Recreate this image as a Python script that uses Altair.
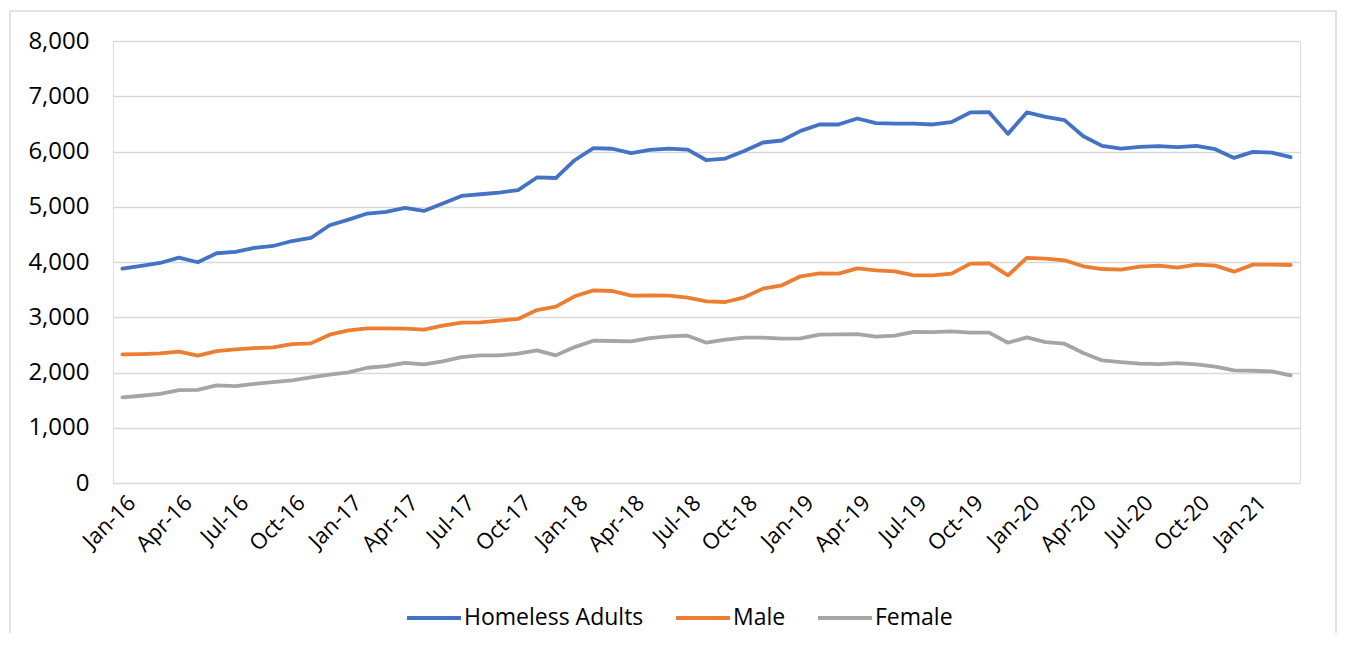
import altair as alt
import pandas as pd

month_names = ["Jan", "Feb", "Mar", "Apr", "May", "Jun", "Jul", "Aug", "Sep", "Oct", "Nov", "Dec"]
years = ["16", "17", "18", "19", "20", "21"]
months = [f"{m}-{y}" for y in years for m in month_names][:63]  # Jan-16 .. Mar-21

homeless_adults = [3880, 3928, 3982, 4080, 3995, 4158, 4182, 4254, 4290, 4380, 4435,
                   4665, 4768, 4877, 4906, 4978, 4924, 5058, 5196, 5226, 5257, 5300,
                   5530, 5520, 5842, 6060, 6050, 5969, 6030, 6053, 6035, 5842, 5872,
                   6011, 6163, 6199, 6373, 6489, 6489, 6597, 6512, 6506, 6506, 6489,
                   6531, 6707, 6712, 6319, 6707, 6627, 6567, 6277, 6102, 6053, 6083,
                   6096, 6078, 6102, 6042, 5884, 5993, 5981, 5897]
male = [2328, 2334, 2346, 2376, 2304, 2388, 2418, 2442, 2455, 2515, 2527,
        2684, 2763, 2799, 2799, 2793, 2775, 2848, 2902, 2908, 2938, 2970,
        3131, 3192, 3379, 3487, 3475, 3391, 3397, 3391, 3355, 3288, 3276,
        3361, 3518, 3578, 3741, 3795, 3789, 3886, 3850, 3832, 3759, 3759,
        3789, 3970, 3976, 3759, 4073, 4061, 4031, 3922, 3873, 3862, 3916,
        3934, 3898, 3952, 3934, 3825, 3952, 3952, 3946]
female = [1549, 1579, 1615, 1681, 1687, 1766, 1754, 1796, 1826, 1857, 1911,
          1960, 2002, 2086, 2116, 2176, 2147, 2201, 2279, 2310, 2310, 2340,
          2400, 2310, 2460, 2576, 2570, 2563, 2623, 2654, 2666, 2539, 2594,
          2630, 2630, 2612, 2618, 2684, 2690, 2696, 2648, 2666, 2735, 2732,
          2745, 2721, 2721, 2539, 2636, 2551, 2521, 2352, 2219, 2189, 2159,
          2153, 2171, 2147, 2105, 2038, 2032, 2020, 1947]

series_names = ["Homeless Adults", "Male", "Female"]
series_colors = ["#4472C4", "#ED7D31", "#A5A5A5"]
x_tick_labels = months[::3]
y_ticks = [0, 1000, 2000, 3000, 4000, 5000, 6000, 7000, 8000]

rows = []
for name, vals in zip(series_names, [homeless_adults, male, female]):
    for m, v in zip(months, vals):
        rows.append({"month": m, "series": name, "value": v, "order": series_names.index(name)})
df = pd.DataFrame(rows)

FONT = "Open Sans"

lines = alt.Chart(df).mark_line(strokeWidth=3.8, strokeCap="round", strokeJoin="round").encode(
    x=alt.X("month:O", sort=months,
            scale=alt.Scale(type="point", padding=0.5),
            axis=alt.Axis(values=x_tick_labels, title=None, labelAngle=-45,
                          labelAlign="right", labelBaseline="middle",
                          labelFont=FONT, labelFontSize=22, labelColor="#000000",
                          labelPadding=16, labelOffset=9, ticks=False, tickSize=0,
                          domain=False, grid=False, labelOverlap=False)),
    y=alt.Y("value:Q",
            scale=alt.Scale(domain=[0, 8000], nice=False),
            axis=alt.Axis(values=y_ticks, format=",.0f", title=None,
                          labelFont=FONT, labelFontSize=24, labelColor="#000000",
                          labelPadding=24, ticks=False, tickSize=0, domain=False,
                          grid=True, gridColor="#d9d9d9", gridWidth=1.5)),
    color=alt.Color("series:N",
                    scale=alt.Scale(domain=series_names, range=series_colors),
                    legend=alt.Legend(title=None, orient="none", direction="horizontal",
                                      legendX=292, legendY=548,
                                      symbolType="stroke", symbolSize=2916,
                                      symbolStrokeWidth=4, labelFont=FONT,
                                      labelFontSize=23, labelColor="#000000",
                                      labelLimit=400, labelOffset=1,
                                      columnPadding=24)),
    order=alt.Order("order:Q"),
)

frame = alt.Chart(alt.Data(values=[{"k": 1}])).mark_rect(
    fill=None, stroke="#d9d9d9", strokeWidth=1.5
).encode(
    x=alt.value(-103), x2=alt.value(1223), y=alt.value(-30), y2=alt.value(700)
)

chart = alt.layer(frame, lines).properties(
    width=1187, height=442,
    autosize=alt.AutoSizeParams(type="none"),
    padding={"left": 105, "top": 33, "right": 38, "bottom": 150},
).configure_view(stroke=None).configure(background="white")

chart.save("out.html", embed_options={"renderer": "svg", "actions": False})
